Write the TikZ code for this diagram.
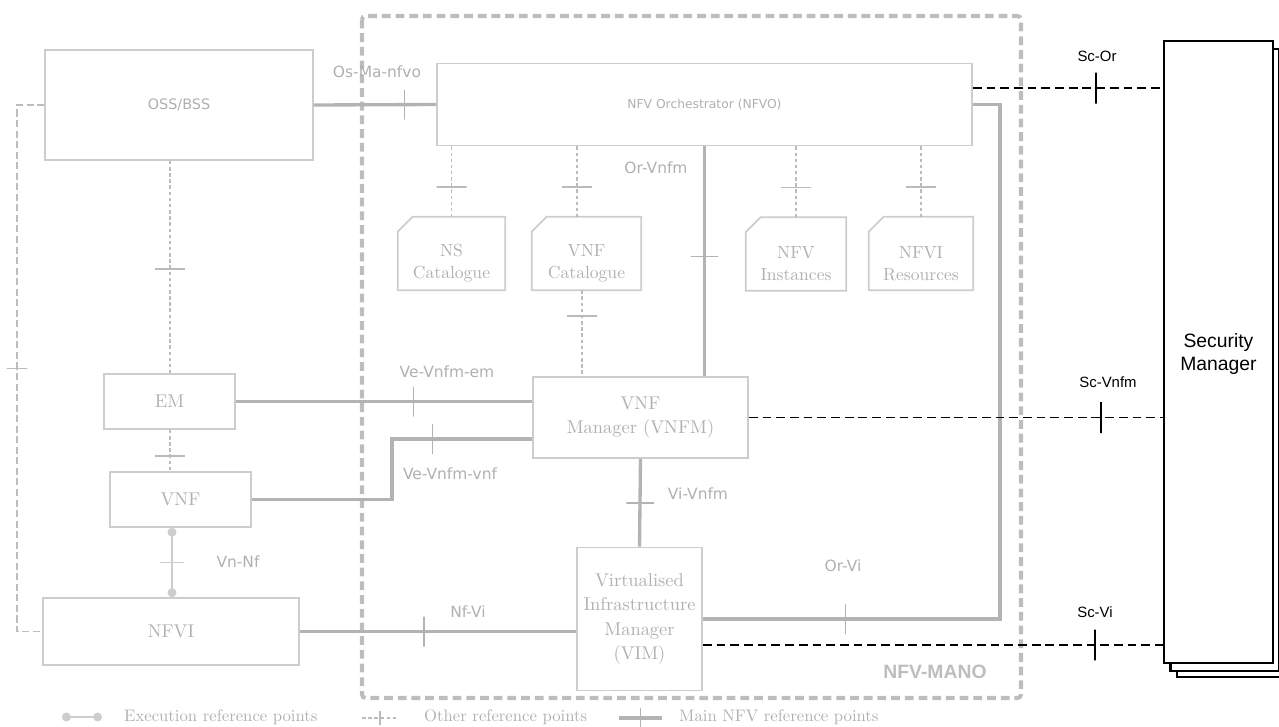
\documentclass[tikz,border=0pt]{standalone}
\usepackage{fontspec}
\newfontfamily\labelfont{DejaVu Sans}
\newfontfamily\helvfont{Liberation Sans}
\usepackage{xcolor}
\usepackage{tikz}
\usetikzlibrary{arrows.meta, calc, shadows}

\definecolor{boxgray}{HTML}{CDCDCD}
\definecolor{txtgray}{HTML}{B0B0B0}
\definecolor{linegray}{HTML}{B3B3B3}
\definecolor{framegray}{HTML}{BDBDBD}
\definecolor{dotgray}{HTML}{BBBBBB}

\begin{document}
\begin{tikzpicture}[
    x=0.02cm, y=-0.02cm,
    box/.style={rectangle, draw=boxgray, line width=1pt, fill=white, text=txtgray, align=center, inner sep=2pt, font=\fontsize{10.5}{14}\selectfont},
    cat/.style={rectangle, text=txtgray, align=center, minimum height=1.46cm, font=\fontsize{10}{12.5}\selectfont},
    catline/.style={draw=boxgray, line width=1pt, fill=white},
    mainref/.style={draw=linegray, line width=1.9pt},
    otherref/.style={draw=dotgray, line width=0.6pt, dash pattern=on 2pt off 1.5pt},
    loopref/.style={draw=framegray, line width=1.1pt, dash pattern=on 4pt off 2pt},
    execref/.style={draw=boxgray, line width=1.4pt, {Circle[length=5pt]}-{Circle[length=5pt]}},
    scref/.style={draw=black, line width=1.1pt, dash pattern=on 5pt off 2.8pt},
    vtick/.style={solid, draw=linegray, line width=0.9pt, minimum height=0.6cm, minimum width=0pt, inner sep=0pt},
    htick/.style={solid, draw=linegray, line width=0.9pt, minimum width=0.55cm, minimum height=0pt, inner sep=0pt},
    otick/.style={solid, draw=dotgray, line width=0.8pt, minimum width=0.6cm, minimum height=0pt, inner sep=0pt},
    sctick/.style={solid, draw=black, line width=1.1pt, minimum height=0.62cm, minimum width=0pt, inner sep=0pt},
    reflabel/.style={text=txtgray, font=\labelfont\fontsize{8.8}{10}\selectfont},
    sclabel/.style={font=\helvfont\fontsize{8.5}{10}\selectfont},
    legend/.style={text=txtgray, anchor=west, font=\fontsize{9.5}{11}\selectfont},
    smbox/.style={rectangle, draw=black, line width=1.2pt, fill=white, align=center,
      minimum width=2.18cm, minimum height=12.44cm, font=\helvfont\fontsize{11}{13}\selectfont,
      copy shadow={shadow xshift=0.26cm, shadow yshift=-0.28cm, draw=black, fill=white, line width=1.2pt},
      copy shadow={shadow xshift=0.13cm, shadow yshift=-0.16cm, draw=black, fill=white, line width=1.2pt}}
  ]
  \useasboundingbox (0,0) rectangle (1279,727);

  % NFV-MANO frame
  \draw[draw=framegray, line width=2.3pt, dash pattern=on 5pt off 2.8pt, rounded corners=2pt] (362,16) rectangle (1021,698);
  \node[font=\helvfont\bfseries\fontsize{11}{13}\selectfont, text=framegray] (mano) at (935,672) {NFV-MANO};

  % Blocks
  \node[box, font=\labelfont\fontsize{8.2}{10}\selectfont, minimum width=5.36cm, minimum height=2.2cm] (oss) at (179,105) {OSS/BSS};
  \node[box, font=\labelfont\fontsize{7}{8}\selectfont, minimum width=10.7cm, minimum height=1.64cm] (nfvo) at (704.5,104.5) {NFV Orchestrator (NFVO)};
  \node[box, minimum width=2.62cm, minimum height=1.1cm] (em) at (169.5,401.5) {EM};
  \node[box, minimum width=2.82cm, minimum height=1.1cm] (vnf) at (180.5,499.5) {VNF};
  \node[box, minimum width=5.12cm, minimum height=1.34cm] (nfvi) at (171,631.5) {NFVI};
  \node[box, minimum width=4.3cm, minimum height=1.62cm] (vnfm) at (640.5,417.5) {VNF\\Manager (VNFM)};
  \node[box, inner sep=1pt, minimum width=2.5cm, minimum height=2.86cm] (vim) at (639.5,619) {Virtualised\\Infrastructure\\Manager\\(VIM)};

  % Catalogues
  \node[cat, minimum width=2.14cm] (ns) at (451.5,253.5) {};
  \node[cat, minimum width=2.18cm] (vnfcat) at (586.5,253.5) {};
  \node[cat, minimum width=2.0cm] (nfvinst) at (796,254) {};
  \node[cat, minimum width=2.08cm] (nfvires) at (921,253.5) {};
  \foreach \c in {ns, vnfcat, nfvinst, nfvires}
    \draw[catline] ([yshift=-0.3cm]\c.north west) -- ([xshift=0.3cm]\c.north west) -- (\c.north east) -- (\c.south east) -- (\c.south west) -- cycle;
  \node[cat, yshift=-0.2cm] at (ns) {NS\\Catalogue};
  \node[cat, yshift=-0.2cm] at (vnfcat) {VNF\\Catalogue};
  \node[cat, yshift=-0.2cm] at (nfvinst) {NFV\\Instances};
  \node[cat, yshift=-0.2cm] at (nfvires) {NFVI\\Resources};

  % Main reference points
  \draw[mainref] (oss.east) -- node[vtick, pos=.74]{} (nfvo.west);
  \draw[mainref] (nfvo.south) -- node[htick, pos=.48]{} (nfvo.south |- vnfm.north);
  \draw[mainref] (em.east) -- node[vtick, pos=.6]{} (em.east -| vnfm.west);
  \draw[mainref] (vnf.east) -| (392,439) -- node[vtick, pos=.29]{} (vnfm.west |- 0,439);
  \draw[mainref] (vnfm.south) -- node[htick, pos=.5]{} (vim.north);
  \draw[mainref] (nfvi.east) -- node[vtick, pos=.45]{} (nfvi.east -| vim.west);
  \draw[mainref] (vim.east) -- node[vtick, pos=.48]{} (1000,0 |- vim.east) |- (nfvo.east);

  % Other reference points
  \foreach \c in {ns, nfvinst, nfvires}
    \draw[otherref] (\c.north |- nfvo.south) -- node[otick, pos=.58]{} (\c.north);
  \draw[otherref] (577,0 |- nfvo.south) -- node[otick, pos=.58]{} (577,0 |- vnfcat.north);
  \draw[otherref] (582,0 |- vnfcat.south) -- node[otick, pos=.3]{} (582,0 |- vnfm.north);
  \draw[otherref] (170,0 |- oss.south) -- node[otick, pos=.51]{} (170,0 |- em.north);
  \draw[otherref] (170,0 |- em.south) -- node[otick, pos=.63]{} (170,0 |- vnf.north);
  \draw[loopref] (oss.west) -- (17,0 |- oss.west) -- node[otick, draw=framegray, minimum width=0.42cm, pos=.5]{} (17,0 |- nfvi.west) -- (nfvi.west);

  % Execution reference point
  \draw[execref] (172,0 |- vnf.south) -- node[htick, draw=boxgray, minimum width=0.48cm, pos=.5]{} (172,0 |- nfvi.north);

  % Reference point labels
  \node[reflabel] (osma) at (377,72) {Os-Ma-nfvo};
  \node[reflabel] (orvnfm) at (656,168) {Or-Vnfm};
  \node[reflabel] (vevnfmem) at (447,372) {Ve-Vnfm-em};
  \node[reflabel] (vevnfmvnf) at (450,474) {Ve-Vnfm-vnf};
  \node[reflabel] (vnnf) at (238,562) {Vn-Nf};
  \node[reflabel] (nfvil) at (468,612) {Nf-Vi};
  \node[reflabel] (vivnfm) at (698,494) {Vi-Vnfm};
  \node[reflabel] (orvi) at (843,566) {Or-Vi};

  % Security Manager
  \node[smbox, text depth=-0.12cm] (sm) at (1218.5,352) {Security\\Manager};
  \coordinate (scor) at ([yshift=0.33cm]nfvo.east);
  \coordinate (scvi) at ([yshift=-0.52cm]vim.east);
  \draw[scref] (scor) -- node[sctick, pos=.65]{} (scor -| sm.west);
  \draw[scref] (vnfm.east) -- node[sctick, pos=.85]{} (vnfm.east -| sm.west);
  \draw[scref] (scvi) -- node[sctick, pos=.853]{} (scvi -| sm.west);
  \node[sclabel] (scorl) at (1097,56) {Sc-Or};
  \node[sclabel] (scvnfml) at (1108,382) {Sc-Vnfm};
  \node[sclabel] (scvil) at (1095,612) {Sc-Vi};

  % Legend
  \coordinate (lgexa) at (62,717);
  \coordinate (lgexb) at (102,717);
  \draw[execref] (lgexa) -- (lgexb);
  \node[legend] (lgex) at (118,717) {Execution reference points};
  \coordinate (lgota) at (362,718);
  \coordinate (lgotb) at (398,718);
  \draw[otherref] (lgota) -- node[vtick, draw=dotgray, line width=0.8pt, minimum height=0.28cm]{} (lgotb);
  \node[legend] (lgot) at (418,717) {Other reference points};
  \coordinate (lgmna) at (619,718);
  \coordinate (lgmnb) at (662,718);
  \draw[mainref] (lgmna) -- node[vtick, minimum height=0.4cm]{} (lgmnb);
  \node[legend] (lgmn) at (673,717) {Main NFV reference points};
\end{tikzpicture}
\end{document}
